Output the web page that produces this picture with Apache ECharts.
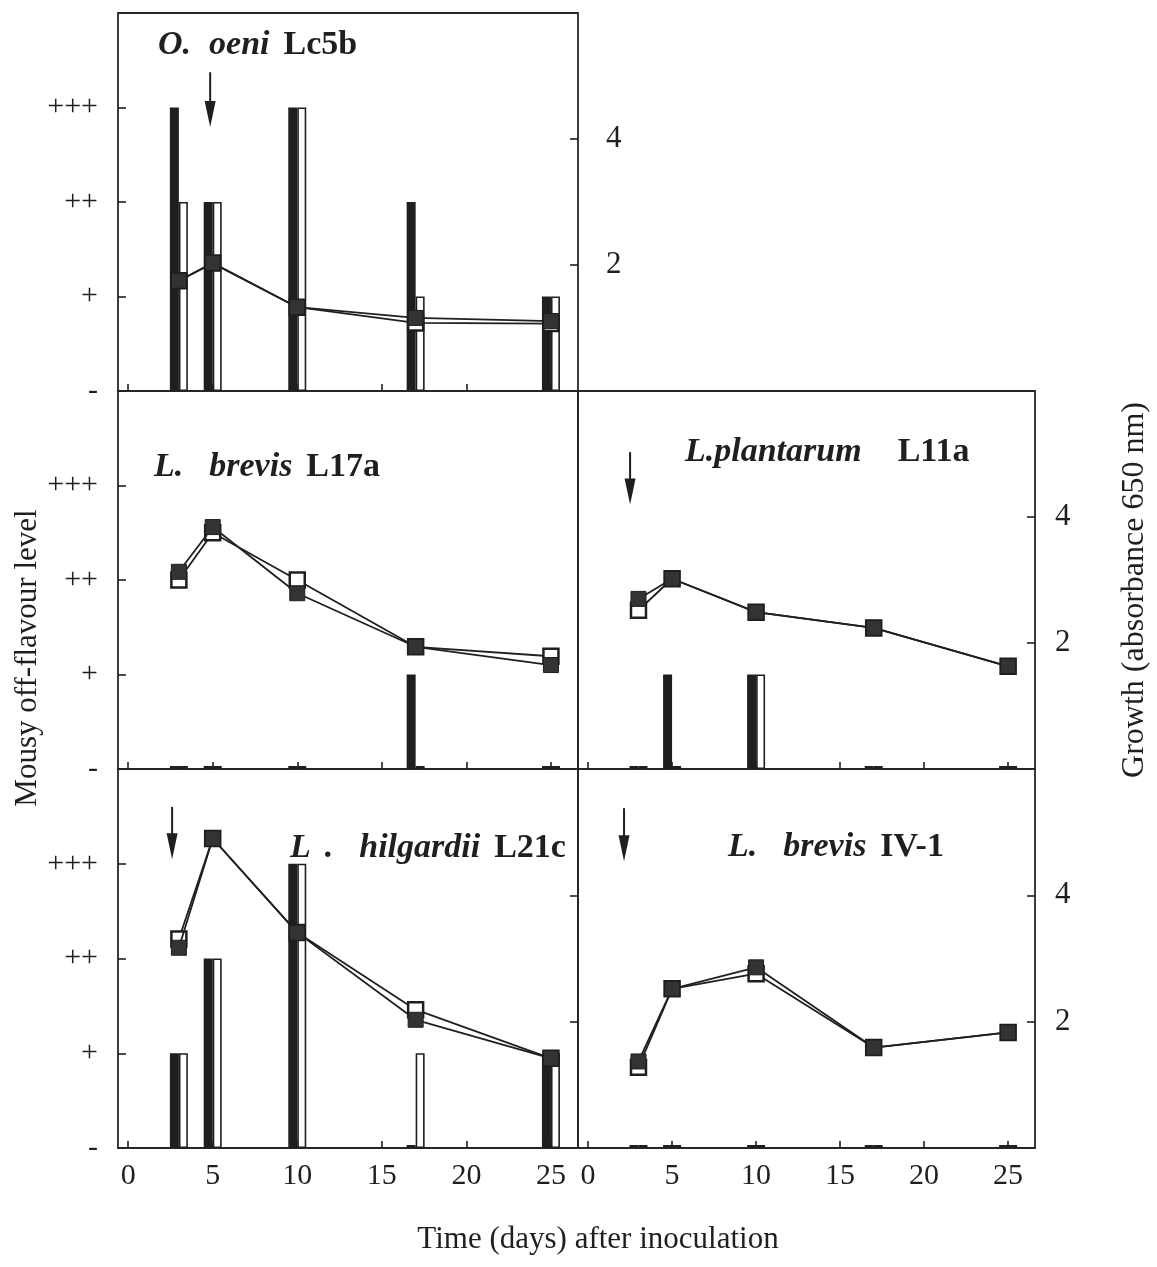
<!DOCTYPE html>
<html>
<head>
<meta charset="utf-8">
<script src="https://cdn.jsdelivr.net/npm/echarts@6/dist/echarts.min.js"></script>
<style>
  html, body { margin: 0; padding: 0; background: #ffffff; }
  #chart { width: 1157px; height: 1267px; }
</style>
</head>
<body>
<div id="chart"></div>
<script>
// Sampling days after inoculation
const days = [3, 5, 10, 17, 25];
const xTicks = [0, 5, 10, 15, 20, 25];

// Mousy off-flavour scale: 0 = -, 1 = +, 2 = ++, 3 = +++
const levelTicks = [0, 1, 2, 3];
const levelLabels = ['-', '+', '++', '+++'];
const growthTicks = [2, 4];

// Off-flavour level, replicate A (solid bars) and B (open bars)
const lc5bFlavourA = [3, 2, 3, 2, 1];
const lc5bFlavourB = [2, 2, 3, 1, 1];
const l17aFlavourA = [0, 0, 0, 1, 0];
const l17aFlavourB = [0, 0, 0, 0, 0];
const l11aFlavourA = [0, 1, 1, 0, 0];
const l11aFlavourB = [0, 0, 1, 0, 0];
const l21cFlavourA = [1, 2, 3, 0, 1];
const l21cFlavourB = [1, 2, 3, 1, 1];
const iv1FlavourA = [0, 0, 0, 0, 0];
const iv1FlavourB = [0, 0, 0, 0, 0];

// Growth (absorbance 650 nm), replicate A (solid squares) and B (open squares)
const lc5bGrowthA = [1.75, 2.03, 1.33, 1.16, 1.11];
const lc5bGrowthB = [1.75, 2.03, 1.33, 1.08, 1.07];
const l17aGrowthA = [3.13, 3.84, 2.79, 1.94, 1.65];
const l17aGrowthB = [3.00, 3.75, 3.00, 1.94, 1.79];
const l11aGrowthA = [2.70, 3.02, 2.49, 2.24, 1.63];
const l11aGrowthB = [2.52, 3.02, 2.49, 2.24, 1.63];
const l21cGrowthA = [3.17, 4.90, 3.41, 2.03, 1.42];
const l21cGrowthB = [3.31, 4.90, 3.41, 2.19, 1.42];
const iv1GrowthA = [1.37, 2.52, 2.86, 1.59, 1.83];
const iv1GrowthB = [1.28, 2.52, 2.76, 1.59, 1.83];

// Down arrows: [day, top, tip] on the growth scale
const lc5bArrow = [4.85, 5.06, 4.19];
const l17aArrow = null;
const l11aArrow = [2.5, 5.03, 4.2];
const l21cArrow = [2.6, 5.4, 4.57];
const iv1Arrow = [2.14, 5.38, 4.54];

const FONT = '"Liberation Serif", "Times New Roman", serif';
const INK = '#1f1f1f';

const panels = [
  { grid: { left: 118, top: 13, width: 460, height: 378 },
    flavour: [lc5bFlavourA, lc5bFlavourB], growth: [lc5bGrowthA, lc5bGrowthB], arrow: lc5bArrow,
    levelAxis: 'labels', growthAxis: 'labels', growthMargin: 28, xLabels: false },
  { grid: { left: 118, top: 391, width: 460, height: 378 },
    flavour: [l17aFlavourA, l17aFlavourB], growth: [l17aGrowthA, l17aGrowthB], arrow: l17aArrow,
    levelAxis: 'labels', growthAxis: 'none', growthMargin: 20, xLabels: false },
  { grid: { left: 578, top: 391, width: 457, height: 378 },
    flavour: [l11aFlavourA, l11aFlavourB], growth: [l11aGrowthA, l11aGrowthB], arrow: l11aArrow,
    levelAxis: 'none', growthAxis: 'labels', growthMargin: 20, xLabels: false },
  { grid: { left: 118, top: 769, width: 460, height: 379 },
    flavour: [l21cFlavourA, l21cFlavourB], growth: [l21cGrowthA, l21cGrowthB], arrow: l21cArrow,
    levelAxis: 'labels', growthAxis: 'ticks', growthMargin: 20, xLabels: true },
  { grid: { left: 578, top: 769, width: 457, height: 379 },
    flavour: [iv1FlavourA, iv1FlavourB], growth: [iv1GrowthA, iv1GrowthB], arrow: iv1Arrow,
    levelAxis: 'none', growthAxis: 'labels', growthMargin: 20, xLabels: true }
];

const pairs = vals => days.map((d, k) => [d, vals[k]]);
const tickStyle = { color: INK, width: 1.6 };

const grids = [], xAxes = [], yAxes = [], series = [];

panels.forEach((p, i) => {
  grids.push(Object.assign({ show: true, borderColor: '#262626', borderWidth: 1.8 }, p.grid));

  xAxes.push({
    type: 'value', gridIndex: i, min: -0.6, max: 26.6,
    axisLine: { show: false, onZero: false }, splitLine: { show: false },
    axisTick: { show: true, inside: true, length: 7, customValues: xTicks, lineStyle: tickStyle },
    axisLabel: { show: p.xLabels, customValues: xTicks, margin: 13, fontSize: 30, color: INK, fontFamily: FONT }
  });

  yAxes.push({
    type: 'value', gridIndex: i, position: 'left', min: 0, max: 4,
    axisLine: { show: false, onZero: false }, splitLine: { show: false },
    axisTick: { show: p.levelAxis !== 'none', inside: true, length: 8, customValues: levelTicks, lineStyle: tickStyle },
    axisLabel: { show: p.levelAxis === 'labels', customValues: levelTicks, margin: 20, fontSize: 30,
      color: INK, fontFamily: FONT, formatter: v => levelLabels[Math.round(v)] }
  });
  yAxes.push({
    type: 'value', gridIndex: i, position: 'right', min: 0, max: 6,
    axisLine: { show: false, onZero: false }, splitLine: { show: false },
    axisTick: { show: p.growthAxis !== 'none', inside: true, length: 8, customValues: growthTicks, lineStyle: tickStyle },
    axisLabel: { show: p.growthAxis === 'labels', customValues: growthTicks, margin: p.growthMargin,
      fontSize: 31, color: INK, fontFamily: FONT }
  });

  // off-flavour bars
  series.push({
    type: 'bar', xAxisIndex: i, yAxisIndex: 2 * i, data: pairs(p.flavour[0]),
    barWidth: 9, barGap: '0%', barMinHeight: 3, z: 2,
    itemStyle: { color: INK }
  });
  series.push({
    type: 'bar', xAxisIndex: i, yAxisIndex: 2 * i, data: pairs(p.flavour[1]),
    barWidth: 9, barGap: '0%', barMinHeight: 3, z: 2,
    itemStyle: { color: '#ffffff', borderColor: INK, borderWidth: 1.6 }
  });

  // growth curves (open first, solid drawn over it)
  series.push({
    type: 'line', xAxisIndex: i, yAxisIndex: 2 * i + 1, data: pairs(p.growth[1]), z: 3,
    symbol: 'rect', symbolSize: 15, showAllSymbol: true,
    lineStyle: { color: INK, width: 1.8 },
    itemStyle: { color: '#ffffff', borderColor: INK, borderWidth: 2.5 }
  });
  series.push({
    type: 'line', xAxisIndex: i, yAxisIndex: 2 * i + 1, data: pairs(p.growth[0]), z: 4,
    symbol: 'rect', symbolSize: 15, showAllSymbol: true,
    lineStyle: { color: INK, width: 1.8 },
    itemStyle: { color: '#333333', borderColor: '#1e1e1e', borderWidth: 1 }
  });

  if (p.arrow) {
    series.push({
      type: 'custom', xAxisIndex: i, yAxisIndex: 2 * i + 1, z: 5,
      data: [p.arrow],
      renderItem: (params, api) => {
        const a = api.coord([api.value(0), api.value(1)]);
        const b = api.coord([api.value(0), api.value(2)]);
        return {
          type: 'group',
          children: [
            { type: 'line', shape: { x1: a[0], y1: a[1], x2: b[0], y2: b[1] - 20 },
              style: { stroke: INK, lineWidth: 2 } },
            { type: 'polygon', shape: { points: [[b[0] - 5.5, b[1] - 26], [b[0] + 5.5, b[1] - 26], [b[0], b[1]]] },
              style: { fill: INK } }
          ]
        };
      }
    });
  }
});

// panel captions
const rich = {
  bi: { fontFamily: FONT, fontSize: 34, fontStyle: 'italic', fontWeight: 'bold', fill: INK },
  b: { fontFamily: FONT, fontSize: 34, fontWeight: 'bold', fill: INK },
  g: { width: 18 }, h: { width: 14 }, w: { width: 26 }, ww: { width: 36 }
};
const caption = (text, x, y) => ({
  type: 'text', x, y,
  style: { text, rich, textVerticalAlign: 'middle', fontFamily: FONT, fontSize: 34 }
});

const option = {
  animation: false,
  backgroundColor: '#ffffff',
  grid: grids, xAxis: xAxes, yAxis: yAxes, series,
  graphic: [
    caption('{bi|O.}{g| }{bi|oeni}{h| }{b|Lc5b}', 158, 45),
    caption('{bi|L.}{w| }{bi|brevis}{h| }{b|L17a}', 154, 467),
    caption('{bi|L.plantarum}{ww| }{b|L11a}', 685, 452),
    caption('{bi|L}{h| }{bi|.}{w| }{bi|hilgardii}{h| }{b|L21c}', 290, 848),
    caption('{bi|L.}{w| }{bi|brevis}{h| }{b|IV-1}', 728, 847),
    { type: 'text', x: 28, y: 658, rotation: Math.PI / 2,
      style: { text: 'Mousy off-flavour level', fontFamily: FONT, fontSize: 31, fill: INK,
        textAlign: 'center', textVerticalAlign: 'middle' } },
    { type: 'text', x: 1135, y: 590, rotation: Math.PI / 2,
      style: { text: 'Growth (absorbance 650 nm)', fontFamily: FONT, fontSize: 32, fill: INK,
        textAlign: 'center', textVerticalAlign: 'middle' } },
    { type: 'text', x: 598, y: 1240,
      style: { text: 'Time (days) after inoculation', fontFamily: FONT, fontSize: 31, fill: INK,
        textAlign: 'center', textVerticalAlign: 'middle' } }
  ]
};

const chart = echarts.init(document.getElementById('chart'), null, { renderer: 'canvas' });
chart.setOption(option);
</script>
</body>
</html>
